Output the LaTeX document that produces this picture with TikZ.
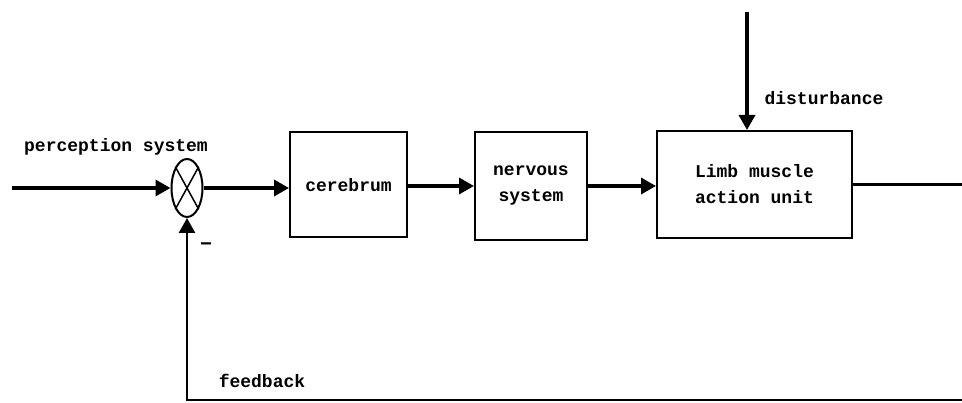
\documentclass[tikz,border=0pt]{standalone}
\usepackage{fontspec}
\setmonofont{Liberation Mono}
\usetikzlibrary{arrows.meta}
\usetikzlibrary{positioning}
\usetikzlibrary{shapes.geometric}

\begin{document}
\begin{tikzpicture}[x=1pt,y=-1pt,
    block/.style={draw, line width=2pt, inner sep=0pt, align=center,
        font=\ttfamily\bfseries\fontsize{18}{26}\selectfont},
    lbl/.style={inner sep=0pt, font=\ttfamily\bfseries\fontsize{18}{22}\selectfont},
    flow/.style={line width=3.4pt, -{Triangle[length=15pt,width=16pt]}}]
        \useasboundingbox[fill=white] (0,0) rectangle (962,403);
        % summing point
        \node[ellipse, draw, line width=2pt, minimum width=31pt, minimum height=58pt, inner sep=0pt] (sum) at (187,188) {};
        \draw[line width=1.5pt] (sum.north west) -- (sum.south east);
        \draw[line width=1.5pt] (sum.north east) -- (sum.south west);
        % blocks
        \node[block, minimum width=117pt, minimum height=105pt] (cer) at (348.5,185) {cerebrum};
        \node[block, minimum width=112pt, minimum height=108pt] (nerv) at (531,186) {nervous\\system};
        \node[block, minimum width=195pt, minimum height=107pt] (limb) at (754.5,184.5) {Limb muscle\\action unit};
        % free ends
        \coordinate (in) at (12,188);
        \coordinate (dist) at (747,12);
        \coordinate (out) at (962,184.5);
        \coordinate (fb) at (962,400);
        % connectors
        \draw[flow] (in) -- (sum.west);
        \draw[flow] (sum.east) -- (sum.east -| cer.west);
        \draw[flow] (cer.east |- nerv.west) -- (nerv.west);
        \draw[flow] (nerv.east) -- (nerv.east -| limb.west);
        \draw[flow] (dist) -- (dist |- limb.north);
        \draw[line width=3.4pt] (out -| limb.east) -- (out);
        \draw[flow, line width=2.6pt] (fb) -| (sum.south);
        % labels
        \node[lbl] (lper) at (116,147) {perception system};
        \node[lbl] (ldist) at (824,98) {disturbance};
        \node[lbl] (lfb) at (262,381) {feedback};
        \node[lbl, font=\ttfamily\bfseries\fontsize{20}{22}\selectfont] (lminus) at (206,247) {−};
    \end{tikzpicture}
\end{document}
